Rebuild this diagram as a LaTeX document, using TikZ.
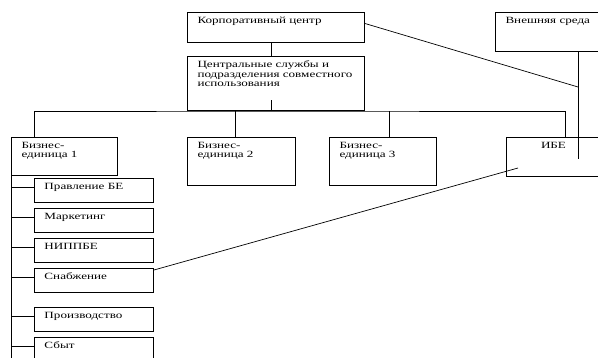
\documentclass[tikz,border=0pt]{standalone}
\usepackage{fontspec}
\setmainfont[FakeStretch=1.38]{Liberation Serif}
\usetikzlibrary{calc}

\tikzset{
  unit/.style={draw,line width=1pt,anchor=north west,inner xsep=10pt,inner ysep=4.5pt,
    font=\fontsize{9.5}{9.5}\selectfont},
  link/.style={line width=0.7pt}
}
\newcommand{\cell}[3]{\parbox[t][#2][t]{#1}{\raggedright #3}}

\begin{document}
\begin{tikzpicture}[x=1pt,y=-1pt]
\useasboundingbox (0,0) rectangle (598,358);
\clip (0,0) rectangle (598,358);
% top level
\node[unit] (korp) at (187,12) {\cell{157pt}{21pt}{Корпоративный центр}};
\node[unit] (central) at (187,56) {\cell{157pt}{45pt}{\mbox{Центральные службы и}\\ \mbox{подразделения совместного}\\ использования}};
\node[unit] (vnesh) at (495,12) {\cell{85pt}{30pt}{\mbox{Внешняя среда}}};
% business units
\node[unit] (be1) at (11,137) {\cell{86pt}{29pt}{Бизнес-\\ единица 1}};
\node[unit] (be2) at (187,137) {\cell{88pt}{39pt}{Бизнес-\\ единица 2}};
\node[unit] (be3) at (329,137) {\cell{87pt}{39pt}{Бизнес-\\ единица 3}};
\node[unit] (ibe) at (506,137) {\parbox[t][30pt][t]{74pt}{\centering ИБЕ}};
% departments of unit 1
\foreach \n/\y/\t in {pravl/178/Правление БЕ,mark/208/Маркетинг,nipp/238/НИППБЕ,
    snab/268/Снабжение,proizv/307/Производство,sbyt/337/Сбыт}
  \node[unit] (\n) at (34,\y) {\cell{99pt}{15pt}{\t}};

\coordinate (k1) at ([xshift=-5pt]korp.south);
\coordinate (c1) at ([xshift=-5pt]central.south);
\coordinate (d1) at ([xshift=23pt]be1.north west);
\coordinate (d2) at ([xshift=-6pt]be2.north);
\coordinate (d3) at ([xshift=6pt]be3.north);
\coordinate (d4) at ([xshift=59pt]ibe.north west);
\coordinate (vdrop) at ([xshift=30pt]vnesh.south);
\coordinate (vend) at ($(vdrop |- ibe.north)+(0,22)$);
\coordinate (vmeet) at ($(vdrop)+(0,35)$);
\coordinate (ibein) at ($(ibe.south west)+(12,-9)$);
\coordinate (spineend) at ($(be1.south west)+(0,200)$);

\draw[link] (k1) -- (k1 |- central.north);
\draw[link] (c1) -- ++(0,-11);
\draw[link] (d1) |- (central.south) -| (d4);
\draw[link] (d2) -- (d2 |- central.south);
\draw[link] (d3) -- (d3 |- central.south);
\draw[link] (vdrop) -- (vend);
\draw[link] ([yshift=4pt]korp.east) -- (vmeet);
\draw[link] ([yshift=-2pt]snab.north east) -- (ibein);
\draw[link] (be1.south west) -- (spineend);
\foreach \n in {pravl,mark,nipp,snab,proizv,sbyt}
  \draw[link] ($(\n.west)+(0,-3)$) -- ($(\n.west -| be1.west)+(0,-3)$);
\end{tikzpicture}
\end{document}
